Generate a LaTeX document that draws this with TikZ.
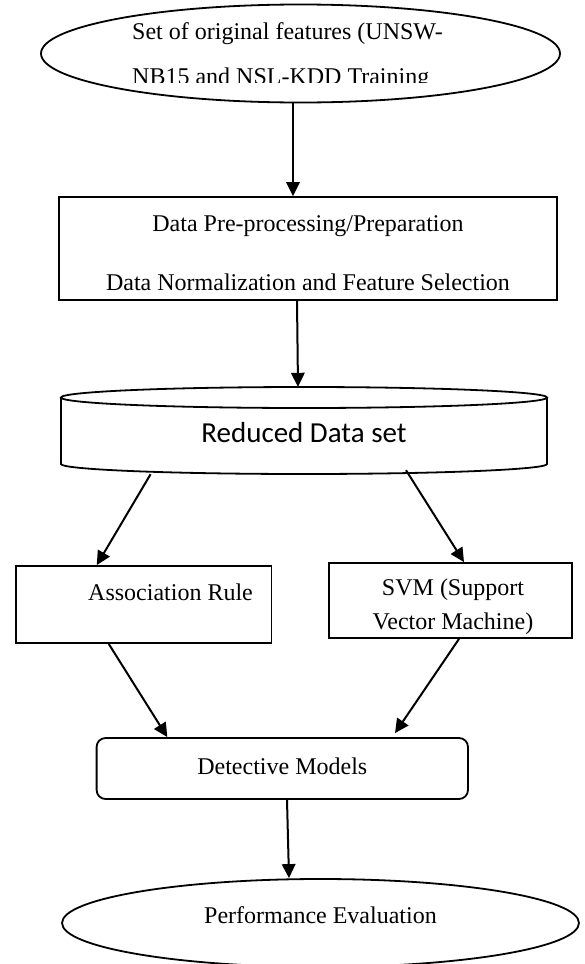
\documentclass[tikz,border=0pt]{standalone}
\usepackage{fontspec}
\setmainfont{Liberation Serif}
\newfontfamily\calib{Carlito}
\usetikzlibrary{arrows.meta,shapes.geometric}
\begin{document}
\begin{tikzpicture}[x=1pt,y=-1pt,
  outline/.style={draw=black, line width=1.8pt},
  boxnode/.style={outline, rectangle, inner sep=0pt},
  ovalnode/.style={outline, ellipse, inner sep=0pt},
  txt/.style={font=\fontsize{24}{28}\selectfont, inner sep=0pt},
  arr/.style={line width=2pt, -{Triangle[length=14pt,width=13.5pt]}}
]
\useasboundingbox[fill=white] (0,0) rectangle (585,964);

% top ellipse
\node[ovalnode, minimum width=519pt, minimum height=98pt] (top) at (300.5,53.5) {};
\node[txt, anchor=base west] (t1) at (132,39) {Set of original features (UNSW-};
\begin{scope}
\clip (0,0) rectangle (585,82.5);
\node[txt, anchor=base west] (t2) at (132,84) {NB15 and NSL-KDD Training};
\end{scope}

% preprocessing box
\node[boxnode, minimum width=498pt, minimum height=103pt] (pre) at (308,248.5) {};
\node[txt, anchor=base] (p1) at (308,231) {Data Pre-processing/Preparation};
\node[txt, anchor=base] (p2) at (308,290) {Data Normalization and Feature Selection};

% cylinder
\node[minimum width=486pt, minimum height=87pt, inner sep=0pt] (cyl) at (304,430.5) {};
\draw[outline] (61,397.5) -- (61,464) arc[start angle=180,end angle=360,x radius=243pt,y radius=10pt] -- (547,397.5);
\draw[outline] (304,397.5) ellipse[x radius=243pt, y radius=10.5pt];
\node[font=\calib\fontsize{29}{34}\selectfont, inner sep=0pt] (red) at (304,433) {Reduced Data set};

% association rule
\node[boxnode, minimum width=255.5pt, minimum height=77pt] (ar) at (143.75,604.5) {};
\node[txt, anchor=base west] (art) at (88,600) {Association Rule};

% svm
\node[boxnode, minimum width=243pt, minimum height=75pt] (svm) at (450.5,600.5) {};
\node[txt, anchor=base] (s1) at (453,595) {SVM (Support};
\node[txt, anchor=base] (s2) at (453,629) {Vector Machine)};

% detective models
\node[boxnode, rounded corners=9pt, minimum width=371.4pt, minimum height=61pt] (det) at (282.3,768.5) {};
\node[txt, anchor=base] (dt) at (282.3,774) {Detective Models};

% bottom ellipse
\node[ovalnode, minimum width=517pt, minimum height=88pt] (bot) at (320.5,923) {};
\node[txt, anchor=base] (bt) at (320.5,923) {Performance Evaluation};

% arrows
\draw[arr] ([xshift=-7.5pt]top.south) -- ([xshift=-15pt]pre.north);
\draw[arr] ([xshift=-11pt]pre.south) -- ([xshift=-6pt]cyl.north);
\draw[arr] ([xshift=-153.4pt]cyl.south) -- ([xshift=-47pt]ar.north);
\draw[arr] ([xshift=102pt,yshift=4pt]cyl.south) -- ([xshift=13.5pt]svm.north);
\draw[arr] ([xshift=-35pt]ar.south) -- ([xshift=-115pt]det.north);
\draw[arr] ([xshift=8.5pt]svm.south) -- ([xshift=112.7pt,yshift=4pt]det.north);
\draw[arr] ([xshift=4.7pt]det.south) -- ([xshift=-31.5pt]bot.north);
\end{tikzpicture}
\end{document}
